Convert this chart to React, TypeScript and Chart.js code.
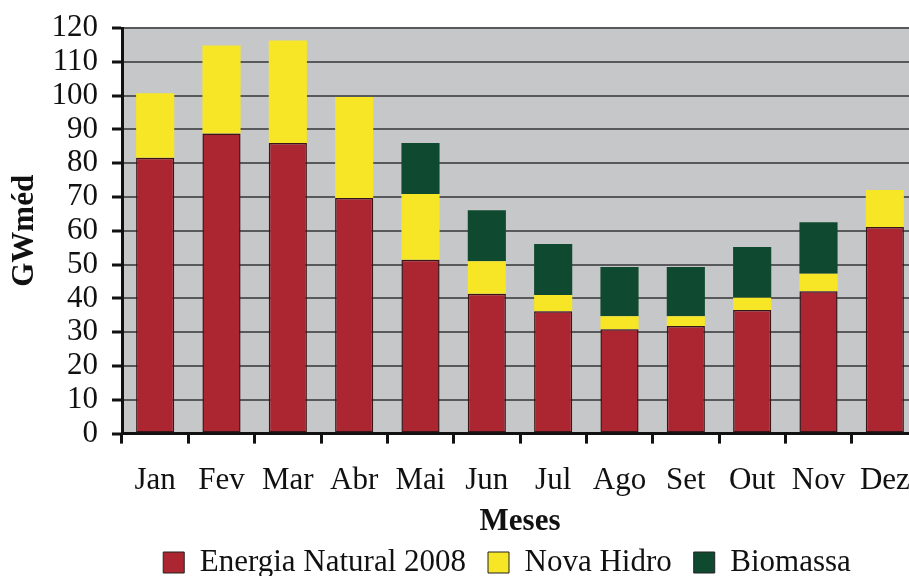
import React, { useEffect, useRef } from "react";
import { Chart, registerables } from "chart.js";

Chart.register(...registerables);

const months = ["Jan", "Fev", "Mar", "Abr", "Mai", "Jun", "Jul", "Ago", "Set", "Out", "Nov", "Dez"];
const energiaNatural = [81.6, 88.8, 86.0, 69.7, 51.4, 41.4, 36.2, 30.9, 31.8, 36.6, 42.1, 61.1];
const novaHidro = [19.1, 26.0, 30.3, 29.9, 19.5, 9.6, 4.8, 3.8, 2.9, 3.6, 5.2, 11.0];
const biomassa = [0, 0, 0, 0, 15.1, 15.1, 15.1, 14.6, 14.6, 15.0, 15.2, 0];

const FONT = "'Liberation Serif', 'Times New Roman', serif";

const plotBg = {
  id: "plotBg",
  beforeDraw(chart: any) {
    const { ctx, chartArea } = chart;
    if (!chartArea) return;
    ctx.save();
    ctx.fillStyle = "#c6c7c9";
    ctx.fillRect(chartArea.left, chartArea.top, chartArea.right - chartArea.left, chartArea.bottom - chartArea.top);
    ctx.restore();
  },
};

const shiftLegend = {
  id: "shiftLegend",
  afterLayout(chart: any) {
    const lg = chart.legend;
    if (!lg) return;
    lg.left += 48;
    lg.right += 48;
  },
};

export default function App() {
  const ref = useRef<HTMLCanvasElement | null>(null);
  useEffect(() => {
    if (!ref.current) return;
    const chart = new Chart(ref.current, {
      type: "bar",
      data: {
        labels: months,
        datasets: [
          {
            label: "Energia Natural 2008",
            data: energiaNatural,
            backgroundColor: "#ab2630",
            borderColor: "#3a1518",
            borderWidth: 1.5,
            borderSkipped: false,
          },
          {
            label: "Nova Hidro",
            data: novaHidro,
            backgroundColor: "#f6e626",
            borderColor: "#f6e626",
            borderWidth: 0,
          },
          {
            label: "Biomassa",
            data: biomassa,
            backgroundColor: "#0f4a30",
            borderColor: "#1f3a2a",
            borderWidth: 0,
          },
        ],
      },
      options: {
        responsive: false,
        animation: false,
        devicePixelRatio: 1,
        layout: { padding: { top: 28, right: 12, left: 0, bottom: 0 } },
        datasets: { bar: { barPercentage: 1, categoryPercentage: 0.575 } },
        plugins: {
          tooltip: { enabled: false },
          legend: {
            position: "bottom",
            labels: {
              color: "#111",
              boxWidth: 21,
              boxHeight: 21,
              padding: 22,
              font: { family: FONT, size: 31, lineHeight: 1 },
              generateLabels: (c: any) =>
                c.data.datasets.map((d: any, i: number) => ({
                  text: d.label,
                  fillStyle: d.backgroundColor,
                  strokeStyle: "#222",
                  lineWidth: 1,
                  datasetIndex: i,
                  hidden: false,
                  fontColor: "#111",
                })),
            },
          },
        },
        scales: {
          x: {
            stacked: true,
            offset: true,
            border: { color: "#111", width: 3 },
            grid: {
              offset: true,
              drawOnChartArea: false,
              drawTicks: true,
              tickLength: 10,
              tickColor: "#111",
              tickWidth: 3,
            },
            ticks: {
              color: "#111",
              padding: 19,
              maxRotation: 0,
              autoSkip: false,
              font: { family: FONT, size: 31 },
            },
            title: {
              display: true,
              text: "Meses",
              color: "#111",
              padding: { top: -15, bottom: -16 },
              font: { family: FONT, size: 31, weight: "bold" },
            },
          },
          y: {
            stacked: true,
            min: 0,
            max: 120,
            border: { color: "#111", width: 3 },
            grid: {
              color: "#58595b",
              lineWidth: 2,
              tickColor: "#111",
              tickWidth: 3,
              tickLength: 10,
            },
            ticks: {
              stepSize: 10,
              autoSkip: false,
              color: "#111",
              padding: 14,
              font: { family: FONT, size: 31 },
            },
            title: {
              display: true,
              text: "GWméd",
              color: "#111",
              padding: { top: 6, bottom: 0 },
              font: { family: FONT, size: 31, weight: "bold" },
            },
            afterFit: (s: any) => {
              s.width = 122;
              s.paddingTop = 0;
              s.paddingBottom = 0;
            },
          },
        },
      },
      plugins: [plotBg, shiftLegend],
    });
    return () => chart.destroy();
  }, []);
  return (
    <div style={{ position: "fixed", left: 0, top: 0, width: 909, height: 576, overflow: "hidden", background: "#fff" }}>
      <canvas ref={ref} width={930} height={588} style={{ display: "block" }} />
    </div>
  );
}
